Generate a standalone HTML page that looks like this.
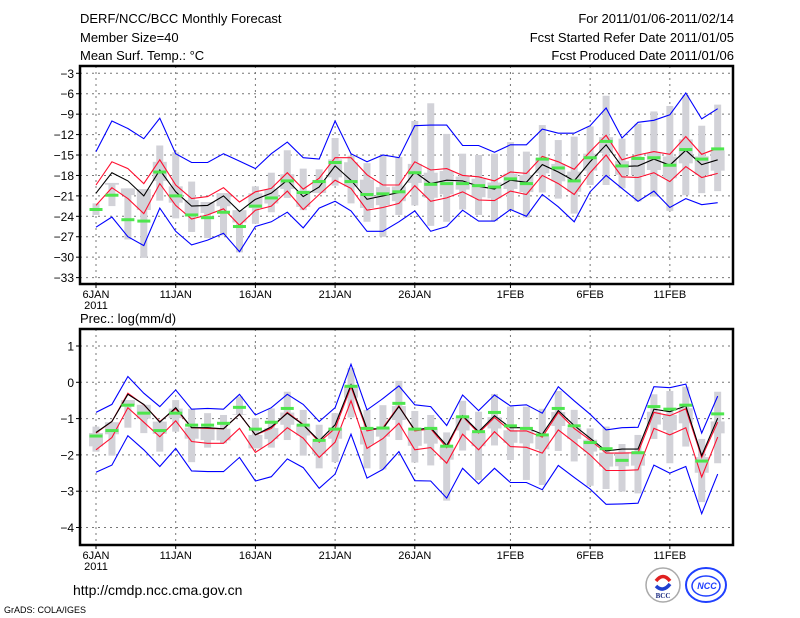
<!DOCTYPE html>
<html><head><meta charset="utf-8"><style>
html,body{margin:0;padding:0;background:#fff;}
svg{display:block;font-family:"Liberation Sans",sans-serif;}
</style></head>
<body>
<svg id="chart" width="800" height="618" viewBox="0 0 800 618" xmlns="http://www.w3.org/2000/svg">
<g font-size="13" fill="#000">
<text x="80" y="23">DERF/NCC/BCC Monthly Forecast</text>
<text x="80" y="42">Member Size=40</text>
<text x="80" y="60">Mean Surf. Temp.: °C</text>
<text x="734" y="23" text-anchor="end">For 2011/01/06-2011/02/14</text>
<text x="734" y="42" text-anchor="end">Fcst Started Refer Date 2011/01/05</text>
<text x="734" y="60" text-anchor="end">Fcst Produced Date 2011/01/06</text>
<text x="80" y="323">Prec.: log(mm/d)</text>
<text x="73" y="595" font-size="14">http://cmdp.ncc.cma.gov.cn</text>
<text x="4" y="613" font-size="9">GrADS: COLA/IGES</text>
</g>
<g>
<circle cx="663" cy="585" r="17" fill="#fff" stroke="#aaa" stroke-width="1.5"/>
<path d="M656 581 q7 -9 14 0" stroke="#e02020" stroke-width="3.5" fill="none"/>
<path d="M656 586 q7 7 14 -2" stroke="#2040d0" stroke-width="3.5" fill="none"/>
<text x="663" y="598" font-size="7" font-weight="bold" text-anchor="middle" fill="#1a2a80" font-family="Liberation Serif,serif">BCC</text>
</g>
<g>
<ellipse cx="706" cy="585" rx="20" ry="17" fill="#fff" stroke="#2040ff" stroke-width="2"/>
<ellipse cx="706" cy="586" rx="14" ry="10" fill="none" stroke="#2040ff" stroke-width="1.5"/>
<text x="707" y="589" font-size="9" font-weight="bold" font-style="italic" text-anchor="middle" fill="#2040ff">NCC</text>
</g>
<g id="top"></g>
<g id="bot"></g>
</svg>
<script>
// ---- shared data ----
const dayLabels = ["6JAN","11JAN","16JAN","21JAN","26JAN","1FEB","6FEB","11FEB"];
const dayLabelIdx = [0,5,10,15,20,26,31,36];
// ---- temperature panel data ----
const tTicks = [-3,-6,-9,-12,-15,-18,-21,-24,-27,-30,-33];
const tBlueUp = [-14.5,-10.0,-11.1,-12.6,-9.6,-14.8,-16.1,-16.1,-14.8,-15.9,-17.0,-14.8,-13.1,-15.4,-15.6,-10.0,-14.8,-16.0,-15.0,-15.4,-10.7,-10.6,-10.6,-13.6,-13.6,-14.6,-13.5,-13.5,-11.2,-11.8,-11.8,-10.7,-8.1,-12.5,-10.2,-9.9,-9.1,-5.9,-9.7,-8.2];
const tRedUp = [-19.4,-16.0,-17.0,-19.2,-15.7,-19.4,-21.4,-21.1,-19.8,-21.9,-20.4,-19.9,-17.6,-20.0,-18.4,-15.4,-15.4,-17.9,-19.4,-19.4,-16.0,-17.2,-17.0,-18.0,-18.2,-18.8,-17.5,-17.7,-15.2,-16.0,-17.1,-14.5,-12.1,-15.7,-15.0,-14.5,-14.9,-12.3,-14.9,-14.0];
const tMean = [-20.6,-17.6,-18.8,-21.0,-17.2,-20.4,-22.5,-22.4,-21.0,-23.3,-21.5,-20.6,-18.7,-21.1,-19.7,-16.6,-18.7,-21.5,-21.0,-20.5,-17.5,-19.2,-18.7,-18.8,-19.6,-20.0,-18.7,-19.0,-16.4,-17.5,-18.8,-16.0,-13.5,-16.7,-16.6,-15.6,-16.5,-14.3,-16.4,-15.7];
const tRedLo = [-22.4,-19.8,-21.4,-23.6,-19.2,-22.4,-24.4,-23.8,-22.9,-25.3,-23.1,-22.5,-20.3,-23.0,-20.8,-18.7,-19.9,-23.1,-22.7,-22.1,-19.5,-21.8,-21.3,-20.4,-21.6,-21.7,-20.3,-20.8,-18.0,-19.2,-20.8,-17.6,-15.0,-18.2,-18.3,-17.6,-18.9,-16.7,-18.3,-17.7];
const tBlueLo = [-25.6,-24.1,-27.0,-28.3,-22.8,-26.2,-28.2,-27.5,-26.5,-29.2,-25.5,-24.8,-23.4,-25.7,-22.8,-21.8,-23.2,-26.2,-26.2,-24.8,-23.2,-26.2,-25.5,-23.1,-24.7,-24.7,-23.0,-24.0,-20.8,-22.6,-24.8,-20.4,-18.0,-19.9,-21.8,-20.3,-22.7,-21.4,-22.3,-22.0];
const tObs = [-23.0,-20.9,-24.5,-24.7,-17.5,-21.0,-23.8,-24.2,-23.4,-25.5,-22.5,-21.3,-18.8,-20.5,-18.9,-16.1,-18.9,-20.8,-20.7,-20.4,-17.6,-19.3,-19.2,-19.2,-19.5,-19.7,-18.5,-19.2,-15.6,-16.9,-18.8,-15.4,-13.0,-16.6,-15.5,-15.4,-16.5,-14.2,-15.6,-14.1];
const tBarTop = [-22.1,-19.1,-19.9,-20.0,-13.6,-14.6,-18.9,-21.9,-20.6,-23.1,-19.6,-17.6,-14.3,-17.0,-17.1,-12.5,-15.1,-16.2,-15.0,-15.3,-10.0,-7.4,-11.9,-14.8,-15.0,-14.8,-13.1,-14.5,-10.6,-12.8,-12.3,-10.8,-6.3,-12.6,-10.4,-8.6,-7.8,-6.2,-10.7,-7.6];
const tBarBot = [-23.8,-22.5,-27.4,-30.1,-21.7,-24.3,-26.3,-27.2,-26.8,-29.3,-25.1,-23.4,-21.3,-23.1,-20.6,-19.5,-22.1,-24.8,-27.0,-23.8,-22.4,-25.4,-24.8,-23.0,-23.8,-24.7,-23.1,-24.2,-20.5,-21.4,-23.6,-19.4,-19.4,-19.9,-21.8,-21.1,-23.2,-20.9,-20.6,-20.3];
// ---- precipitation panel data ----
const pTicks = [1,0,-1,-2,-3,-4];
const pBlueUp = [-0.83,-0.61,0.16,-0.30,-0.67,-0.21,-0.74,-0.72,-0.74,-0.33,-0.90,-0.70,-0.33,-0.61,-1.08,-0.70,0.50,-0.76,-0.45,-0.10,-0.62,-0.67,-1.19,-0.35,-0.78,-0.35,-0.65,-0.62,-0.85,-0.12,-0.51,-0.88,-1.31,-1.25,-1.24,-0.12,-0.15,-0.05,-1.40,-0.38];
const pRedUp = [-1.40,-1.08,-0.30,-0.62,-1.08,-0.73,-1.25,-1.27,-1.28,-0.88,-1.45,-1.27,-0.83,-1.16,-1.65,-1.27,-0.12,-1.34,-1.25,-0.65,-1.34,-1.28,-1.80,-0.94,-1.40,-0.97,-1.34,-1.34,-1.51,-0.83,-1.27,-1.59,-1.95,-1.95,-1.94,-0.83,-0.92,-0.73,-2.07,-1.10];
const pMean = [-1.38,-1.08,-0.33,-0.61,-1.10,-0.70,-1.25,-1.25,-1.28,-0.88,-1.45,-1.23,-0.85,-1.17,-1.61,-1.17,-0.07,-1.28,-1.28,-0.67,-1.31,-1.25,-1.74,-0.92,-1.36,-0.92,-1.25,-1.25,-1.43,-0.78,-1.19,-1.54,-1.89,-1.84,-1.84,-0.74,-0.81,-0.65,-2.02,-0.99];
const pRedLo = [-1.86,-1.52,-0.70,-1.10,-1.50,-1.06,-1.63,-1.68,-1.68,-1.27,-1.93,-1.65,-1.25,-1.54,-2.07,-1.65,-0.51,-1.82,-1.55,-1.13,-1.86,-1.80,-2.23,-1.43,-1.86,-1.36,-1.77,-1.79,-1.95,-1.31,-1.65,-2.00,-2.43,-2.43,-2.41,-1.27,-1.45,-1.25,-2.61,-1.51];
const pBlueLo = [-2.48,-2.28,-1.47,-1.86,-2.32,-1.82,-2.44,-2.46,-2.46,-2.07,-2.72,-2.60,-2.11,-2.35,-2.92,-2.53,-1.43,-2.64,-2.40,-1.91,-2.71,-2.72,-3.19,-2.37,-2.80,-2.37,-2.76,-2.76,-2.96,-2.29,-2.62,-2.94,-3.36,-3.35,-3.33,-2.28,-2.50,-2.32,-3.62,-2.53];
const pObs = [-1.48,-1.33,-0.63,-0.85,-1.33,-0.85,-1.18,-1.18,-1.13,-0.69,-1.29,-1.10,-0.72,-1.18,-1.60,-1.29,-0.11,-1.27,-1.26,-0.58,-1.29,-1.27,-1.76,-0.95,-1.36,-0.83,-1.20,-1.27,-1.45,-0.72,-1.20,-1.66,-1.83,-2.15,-1.94,-0.67,-0.74,-0.63,-2.17,-0.87];
const pBarTop = [-1.22,-1.10,-0.49,-0.62,-1.08,-0.49,-0.73,-0.85,-0.90,-0.39,-0.99,-0.72,-0.26,-0.76,-1.17,-0.85,0.39,-0.76,-0.63,0.04,-0.79,-0.90,-1.38,-0.51,-0.81,-0.32,-0.67,-0.67,-0.73,-0.24,-0.76,-1.27,-1.22,-1.70,-1.45,-0.33,-0.24,-0.12,-1.56,-0.26];
const pBarBot = [-1.91,-2.02,-1.25,-1.40,-1.91,-1.36,-2.20,-1.80,-1.68,-0.90,-1.82,-1.80,-1.59,-2.02,-2.37,-2.20,-0.97,-2.37,-2.40,-1.59,-2.21,-2.29,-3.26,-1.88,-2.69,-1.74,-2.14,-2.69,-2.83,-1.89,-2.18,-2.85,-2.94,-3.01,-3.06,-1.56,-2.23,-1.77,-3.30,-2.23];

const NS="http://www.w3.org/2000/svg";
function mk(parent,tag,attrs){const e=document.createElementNS(NS,tag);for(const k in attrs)e.setAttribute(k,attrs[k]);parent.appendChild(e);return e;}
const xDay = d => 96 + d*15.94;

function panel(g, cfg){
  const L=80,R=733,T=cfg.top,B=cfg.bottom;
  const y = v => cfg.y0 + (cfg.v0 - v)*cfg.k;
  cfg.ticks.forEach(t=>{
    const ln=mk(g,'line',{x1:L,x2:R,y1:y(t),y2:y(t),stroke:'#777','stroke-dasharray':'2,4','stroke-width':1});
    
    
    const tx=mk(g,'text',{x:74,y:y(t)+4.5,'font-size':12,'text-anchor':'end'});
    tx.textContent=(t<0?'\u2212':'')+Math.abs(t);
    
    
    const tk=mk(g,'line',{x1:76,x2:80,y1:y(t),y2:y(t),stroke:'#000'});
    
    
  });
  dayLabelIdx.forEach((d,i)=>{
    const ln=mk(g,'line',{x1:xDay(d),x2:xDay(d),y1:T,y2:B,stroke:'#777','stroke-dasharray':'2,4','stroke-width':1});
    
    
    const tk=mk(g,'line',{x1:xDay(d),x2:xDay(d),y1:B,y2:B+4,stroke:'#000'});
    
    
    const tx=mk(g,'text',{x:xDay(d),y:B+14,'font-size':11,'text-anchor':'middle'});
    tx.textContent=dayLabels[i];
    
    
  });
  const yr=mk(g,'text',{x:xDay(0),y:B+25,'font-size':11,'text-anchor':'middle'});
  yr.textContent='2011';
  
  
  cfg.barTop.forEach((v,i)=>{
    const r=mk(g,'rect',{x:xDay(i)-3.5,y:y(v),width:7,height:y(cfg.barBot[i])-y(v),fill:'#d2d2d8'});
    
    
    // wider inner box (roughly interquartile), derived from spread lines, clipped to bar
    const hi=Math.min(v, cfg.mean[i]+(cfg.redUp[i]-cfg.mean[i])*0.8);
    const lo=Math.max(cfg.barBot[i], cfg.mean[i]-(cfg.mean[i]-cfg.redLo[i])*0.8);
    if(hi>lo){
      const b=mk(g,'rect',{x:xDay(i)-7,y:y(hi),width:14,height:y(lo)-y(hi),fill:'#d2d2d8'});
      
      
    }
  });
  const series=[[cfg.blueUp,'#0000ff','upper-bound-line'],[cfg.blueLo,'#0000ff','lower-bound-line'],[cfg.redUp,'#ff1030','upper-spread-line'],[cfg.redLo,'#ff1030','lower-spread-line'],[cfg.mean,'#000','ensemble-mean-line']];
  series.forEach(s=>{
    const p=mk(g,'polyline',{points:s[0].map((v,i)=>xDay(i).toFixed(1)+','+y(v).toFixed(1)).join(' '),fill:'none',stroke:s[1],'stroke-width':1.1});
    
    
  });
  cfg.obs.forEach((v,i)=>{
    const r=mk(g,'rect',{x:xDay(i)-6.5,y:y(v)-1.5,width:13,height:3,fill:'#4de64d'});
    
    
  });
  const fr=mk(g,'rect',{x:L,y:T,width:R-L,height:B-T,fill:'none',stroke:'#000','stroke-width':2.5});
  
  
}
panel(document.getElementById('top'),{top:66,bottom:284,y0:73.3,v0:-3,k:6.81,ticks:tTicks,
  blueUp:tBlueUp,redUp:tRedUp,mean:tMean,redLo:tRedLo,blueLo:tBlueLo,obs:tObs,barTop:tBarTop,barBot:tBarBot});
panel(document.getElementById('bot'),{top:329,bottom:545,y0:382.3,v0:0,k:36.3,ticks:pTicks,
  blueUp:pBlueUp,redUp:pRedUp,mean:pMean,redLo:pRedLo,blueLo:pBlueLo,obs:pObs,barTop:pBarTop,barBot:pBarBot});
</script>
</body></html>
